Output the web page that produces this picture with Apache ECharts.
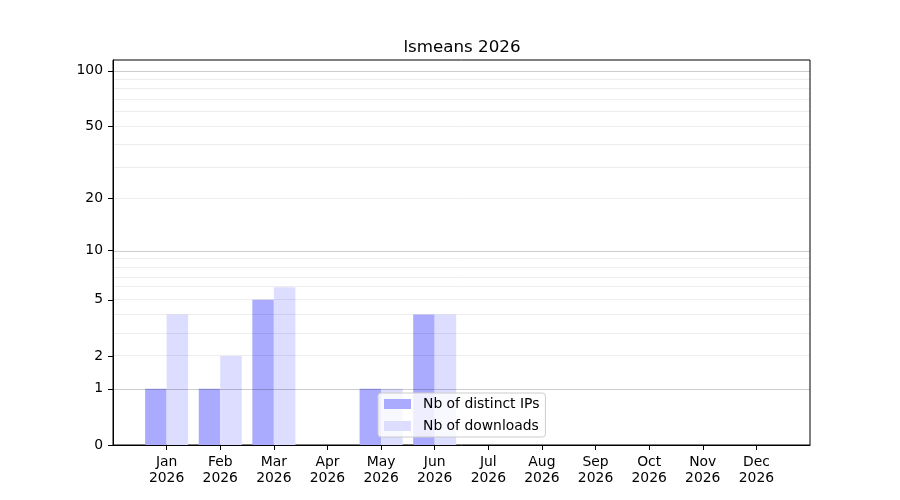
<!DOCTYPE html>
<html lang="en">
  <head>
    <meta charset="UTF-8" />
    <title>lsmeans 2026</title>
    <script src="https://cdn.jsdelivr.net/npm/echarts@6.0.0/dist/echarts.min.js"></script>
  </head>
  <body style="margin: 0">
    <div id="main" style="width: 900px; height: 500px"></div>
    <script type="text/javascript">
      // monthly counts
      const months = ["Jan", "Feb", "Mar", "Apr", "May", "Jun", "Jul", "Aug", "Sep", "Oct", "Nov", "Dec"];
      const year = "2026";
      const distinctIps = [1, 1, 5, 0, 1, 4, 0, 0, 0, 0, 0, 0];
      const downloads = [4, 2, 6, 0, 1, 4, 0, 0, 0, 0, 0, 0];

      // y axis: log10(1 + v) scale
      const yTicks = [0, 1, 2, 5, 10, 20, 50, 100];
      const majorGrid = [1, 10, 100];
      const minorGrid = [2, 3, 4, 5, 6, 7, 8, 9, 20, 30, 40, 50, 60, 70, 80, 90];
      const yTop = 114.5;

      const fwd = (v) => Math.log10(1 + v);
      const back = (t) => Math.round(Math.pow(10, t) - 1);

      const font = "DejaVu Sans";
      let myChart = echarts.init(document.getElementById("main"));

      let options = {
        animation: false,
        title: {
          text: "lsmeans " + year,
          left: 457,
          textAlign: "center",
          top: 34,
          textStyle: { fontFamily: font, fontSize: 16.7, fontWeight: "normal", color: "#000" },
        },
        legend: {
          orient: "vertical",
          left: 378,
          top: 393,
          padding: [4, 6, 4, 6],
          itemGap: 8,
          itemWidth: 27,
          itemHeight: 10,
          icon: "rect",
          backgroundColor: "rgba(255,255,255,0.8)",
          borderColor: "#cccccc",
          borderWidth: 1,
          borderRadius: 3,
          textStyle: { fontFamily: font, fontSize: 13.9, color: "#000", padding: [0, 0, 0, 7] },
        },
        grid: {
          left: 113,
          right: 90,
          top: 60,
          bottom: 55,
          show: true,
          borderColor: "#000",
          borderWidth: 1,
        },
        xAxis: {
          type: "value",
          min: -1,
          max: 12,
          splitLine: { show: false },
          axisLine: { onZero: false, lineStyle: { color: "#000" } },
          axisTick: { customValues: months.map((m, i) => i), length: 5, lineStyle: { color: "#000" } },
          axisLabel: {
            customValues: months.map((m, i) => i),
            formatter: (v) => months[v] + "\n" + year,
            fontFamily: font,
            fontSize: 13.9,
            lineHeight: 16,
            color: "#000",
            margin: 9,
          },
        },
        yAxis: {
          type: "value",
          min: 0,
          max: fwd(yTop),
          splitLine: { show: false },
          axisLine: { show: true, onZero: false, lineStyle: { color: "#000" } },
          axisTick: { show: true, customValues: yTicks.map(fwd), length: 5, lineStyle: { color: "#000" } },
          axisLabel: {
            customValues: yTicks.map(fwd),
            formatter: (v) => String(back(v)),
            fontFamily: font,
            fontSize: 13.9,
            color: "#000",
            margin: 10,
          },
        },
        series: [
          {
            name: "Nb of distinct IPs",
            type: "bar",
            barWidth: 21.5,
            barGap: "0%",
            data: distinctIps.map((v, i) => [i, fwd(v)]),
            itemStyle: { color: "#aaaaff" },
            markLine: {
              silent: true,
              symbol: ["none", "none"],
              label: { show: false },
              lineStyle: { color: "rgba(0,0,0,0.2)", width: 1, type: "solid" },
              data: majorGrid.map((v) => ({ yAxis: fwd(v) })),
            },
          },
          {
            name: "Nb of downloads",
            type: "bar",
            barWidth: 21.5,
            barGap: "0%",
            data: downloads.map((v, i) => [i, fwd(v)]),
            itemStyle: { color: "#ddddff" },
            markLine: {
              silent: true,
              symbol: ["none", "none"],
              label: { show: false },
              lineStyle: { color: "rgba(0,0,0,0.07)", width: 1, type: "solid" },
              data: minorGrid.map((v) => ({ yAxis: fwd(v) })),
            },
          },
        ],
      };

      myChart.setOption(options);
    </script>
  </body>
</html>
